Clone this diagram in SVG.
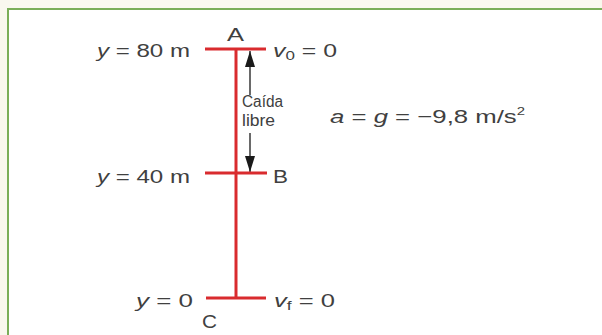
<svg xmlns="http://www.w3.org/2000/svg" width="602" height="335" viewBox="0 0 602 335">
<style>
.t{font-family:"Liberation Sans",Arial,sans-serif;font-size:19px;fill:#404040}
.s{font-family:"Liberation Sans",Arial,sans-serif;font-size:16px;fill:#404040}
.i{font-style:italic}
.red{stroke:#d92b2e;stroke-width:3;fill:none}
.arr{stroke:#1a1a1a;stroke-width:1.3;fill:none}
</style>
<defs>
<marker id="ah" viewBox="0 0 16 10" refX="16" refY="5" markerWidth="16" markerHeight="10" markerUnits="userSpaceOnUse" orient="auto">
<path d="M0,0 L16,5 L0,10 Z" fill="#1a1a1a"/>
</marker>
</defs>
<rect x="0" y="0" width="602" height="335" fill="#f9f8ee"/>
<rect x="8" y="9" width="610" height="340" fill="#ffffff" stroke="#7aae58" stroke-width="2"/>
<g id="edges">
<line class="red" x1="236" y1="49" x2="236" y2="298"/>
<line class="arr" x1="250" y1="95" x2="250" y2="51" marker-end="url(#ah)"/>
<line class="arr" x1="250" y1="133" x2="250" y2="172" marker-end="url(#ah)"/>
</g>
<g id="A">
<line class="red" x1="205" y1="49" x2="266" y2="49"/>
<text class="t" x="227" y="41" textLength="17" lengthAdjust="spacingAndGlyphs">A</text>
<text class="t" x="97" y="57" textLength="93" lengthAdjust="spacingAndGlyphs"><tspan class="i">y</tspan> = 80 m</text>
<text class="t" x="273" y="57" textLength="64" lengthAdjust="spacingAndGlyphs"><tspan class="i">v</tspan><tspan font-size="13" dy="3">0</tspan><tspan dy="-3"> = 0</tspan></text>
</g>
<g id="caida">
<text class="s" x="242" y="107" textLength="41" lengthAdjust="spacingAndGlyphs">Caída</text>
<text class="s" x="242" y="126" textLength="33" lengthAdjust="spacingAndGlyphs">libre</text>
</g>
<g id="accel">
<text class="t" x="330" y="123" textLength="195" lengthAdjust="spacingAndGlyphs"><tspan class="i">a</tspan> = <tspan class="i">g</tspan> =  −9,8 m/s<tspan font-size="11" dy="-8">2</tspan></text>
</g>
<g id="B">
<line class="red" x1="205" y1="173" x2="267" y2="173"/>
<text class="t" x="97" y="183" textLength="93" lengthAdjust="spacingAndGlyphs"><tspan class="i">y</tspan> = 40 m</text>
<text class="t" x="273" y="183" textLength="15" lengthAdjust="spacingAndGlyphs">B</text>
</g>
<g id="C">
<line class="red" x1="206" y1="298" x2="266" y2="298"/>
<text class="t" x="136" y="307" textLength="57" lengthAdjust="spacingAndGlyphs"><tspan class="i">y</tspan> = 0</text>
<text class="t" x="202" y="328" textLength="15" lengthAdjust="spacingAndGlyphs">C</text>
<text class="t" x="274" y="307" textLength="61" lengthAdjust="spacingAndGlyphs"><tspan class="i">v</tspan><tspan font-size="13" dy="3">f</tspan><tspan dy="-3"> = 0</tspan></text>
</g>
</svg>
